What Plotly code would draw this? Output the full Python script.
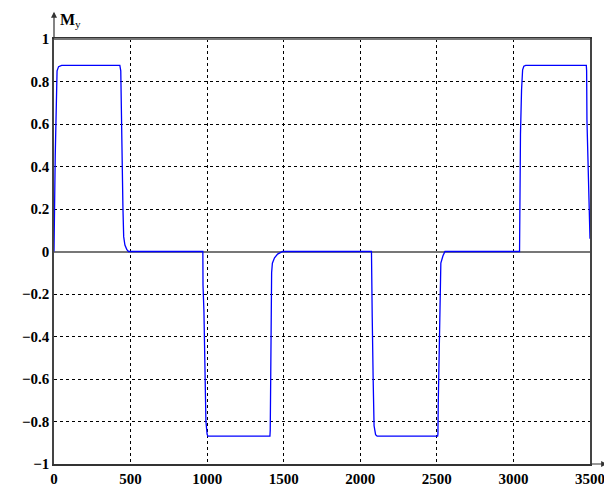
import plotly.graph_objects as go

# Data
t_vals = [0, 1, 3, 8, 20, 30, 50,
          430, 436, 438, 442, 446, 450, 455, 463, 475, 486,
          972, 973, 979, 985, 992, 1000, 1005,
          1410, 1412, 1415, 1418, 1421, 1426, 1440, 1460, 1493,
          2073, 2074, 2078, 2084, 2090, 2100, 2110,
          2505, 2507, 2509, 2514, 2518, 2521, 2526, 2540, 2553,
          3040, 3043, 3046, 3053, 3060, 3068, 3080,
          3476, 3478, 3480, 3489, 3500]
my_vals = [0, 0.1, 0.28, 0.45, 0.85, 0.87, 0.876,
           0.876, 0.85, 0.74, 0.48, 0.29, 0.21, 0.07, 0.03, 0.01, 0,
           0, -0.16, -0.28, -0.55, -0.8, -0.86, -0.869,
           -0.869, -0.84, -0.6, -0.3, -0.1, -0.055, -0.03, -0.012, 0,
           0, -0.12, -0.31, -0.6, -0.82, -0.862, -0.869,
           -0.869, -0.86, -0.72, -0.5, -0.27, -0.11, -0.055, -0.02, 0,
           0, 0.3, 0.55, 0.76, 0.855, 0.872, 0.876,
           0.876, 0.85, 0.62, 0.35, 0.06]

x_ticks = [0, 500, 1000, 1500, 2000, 2500, 3000, 3500]
x_labels = ["0", "500", "1000", "1500", "2000", "2500", "3000", "3500"]
y_ticks = [1, 0.8, 0.6, 0.4, 0.2, 0, -0.2, -0.4, -0.6, -0.8, -1]
y_labels = ["1", "0.8", "0.6", "0.4", "0.2", "0", "\u22120.2", "\u22120.4",
            "\u22120.6", "\u22120.8", "\u22121"]

tick_font = dict(family="Liberation Serif", size=15, color="black")

fig = go.Figure()
fig.add_trace(go.Scatter(x=t_vals, y=my_vals, mode="lines",
                         line=dict(color="#0000ff", width=1.3),
                         hoverinfo="skip", showlegend=False))

# page body has an 8px margin, so the figure is shrunk by 8px to fit the window
fig.update_layout(
    width=604, height=478,
    margin=dict(l=46, r=22, t=31, b=22, autoexpand=False),
    plot_bgcolor="white", paper_bgcolor="white",
    font=tick_font,
    showlegend=False,
    xaxis=dict(range=[0, 3500], tickvals=x_ticks,
               ticktext=["<b>" + s + "</b>" for s in x_labels],
               showgrid=True, gridcolor="black", griddash="3px,3px", gridwidth=1,
               zeroline=False, showline=True, linecolor="#333", linewidth=1.5,
               mirror=True, ticks="", ticklen=0, automargin=False,
               tickfont=tick_font),
    yaxis=dict(range=[-1, 1], tickvals=y_ticks,
               ticktext=["<b>" + s + "</b>" for s in y_labels],
               showgrid=True, gridcolor="black", griddash="3px,3px", gridwidth=1,
               zeroline=True, zerolinecolor="#777", zerolinewidth=2,
               showline=True, linecolor="#444", linewidth=1.5,
               mirror=True, ticks="", ticklen=0, automargin=False,
               tickfont=tick_font),
)

# Top border in grey
fig.add_shape(type="line", xref="paper", yref="paper", x0=0, x1=1, y0=1, y1=1,
              line=dict(color="#777", width=2))

# Axis arrows
fig.add_annotation(xref="paper", yref="paper", x=0, y=1.064, ax=0, ay=28,
                   axref="pixel", ayref="pixel", text="", showarrow=True,
                   arrowhead=2, arrowsize=1, arrowwidth=1.2, arrowcolor="#333")
fig.add_annotation(xref="paper", yref="paper", x=1.032, y=0, ax=-18, ay=0,
                   axref="pixel", ayref="pixel", text="", showarrow=True,
                   arrowhead=2, arrowsize=1, arrowwidth=1.2, arrowcolor="#333")

# Axis labels
fig.add_annotation(xref="paper", yref="paper", x=0.007, y=1.044,
                   xanchor="left", yanchor="middle", showarrow=False,
                   text="<b>M</b><sub>y</sub>",
                   font=dict(family="Liberation Serif", size=16, color="black"))
fig.add_annotation(xref="paper", yref="paper", x=1.03, y=0.015,
                   xanchor="center", yanchor="bottom", showarrow=False,
                   text="t",
                   font=dict(family="Liberation Serif", size=17, color="black"))

fig.write_html("out.html")
